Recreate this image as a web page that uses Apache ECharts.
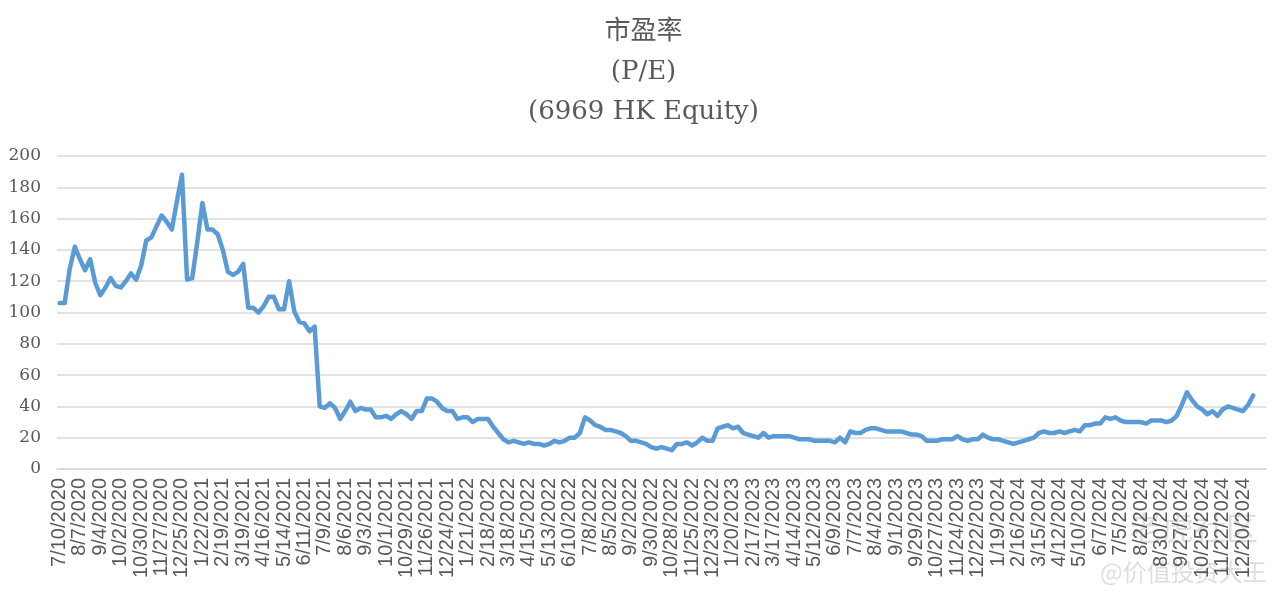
<!DOCTYPE html>
<html>
<head>
<meta charset="utf-8">
<script src="https://cdn.jsdelivr.net/npm/echarts@6/dist/echarts.min.js"></script>
<style>
html,body{margin:0;padding:0;background:#fff;}
#chart{width:1287px;height:606px;}
</style>
</head>
<body>
<div id="chart"></div>
<script>
// Chart title lines
var titleLines = ['市盈率', '(P/E)', '(6969 HK Equity)'];
// Weekly observation dates: first date and number of weekly categories on the axis
var startDate = '2020-07-10';
var categoryCount = 237;
// Y-axis ticks
var yTicks = [0, 20, 40, 60, 80, 100, 120, 140, 160, 180, 200];
// P/E values (weekly)
var peValues = [
  106,106,128,142,134,127,134,119,111,116,
  122,117,116,120,125,121,130,146,148,155,
  162,158,153,171,188,121,122,145,170,153,
  153,150,140,126,124,126,131,103,103,100,
  104,110,110,102,102,120,101,94,93,88,
  91,40,39,42,39,32,37,43,37,39,
  38,38,33,33,34,32,35,37,35,32,
  37,37,45,45,43,39,37,37,32,33,
  33,30,32,32,32,27,23,19,17,18,
  17,16,17,16,16,15,16,18,17,18,
  20,20,23,33,31,28,27,25,25,24,
  23,21,18,18,17,16,14,13,14,13,
  12,16,16,17,15,17,20,18,18,26,
  27,28,26,27,23,22,21,20,23,20,
  21,21,21,21,20,19,19,19,18,18,
  18,18,17,20,17,24,23,23,25,26,
  26,25,24,24,24,24,23,22,22,21,
  18,18,18,19,19,19,21,19,18,19,
  19,22,20,19,19,18,17,16,17,18,
  19,20,23,24,23,23,24,23,24,25,
  24,28,28,29,29,33,32,33,31,30,
  30,30,30,29,31,31,31,30,31,34,
  41,49,44,40,38,35,37,34,38,40,
  39,38,37,41,47
];
// Watermark texts
var watermarkLines = ['老虎社区', '@价值投资大王'];

// build weekly category labels (M/D/YYYY)
var categories = [];
(function(){
  var p = startDate.split('-');
  var t = Date.UTC(+p[0], +p[1]-1, +p[2]);
  for (var i = 0; i < categoryCount; i++) {
    var d = new Date(t + i*7*86400000);
    categories.push((d.getUTCMonth()+1) + '/' + d.getUTCDate() + '/' + d.getUTCFullYear());
  }
})();

var chart = echarts.init(document.getElementById('chart'));
chart.setOption({
  animation: false,
  backgroundColor: '#ffffff',
  title: {
    text: titleLines.join('\n'),
    left: 'center',
    top: 7,
    textStyle: {
      fontFamily: 'DejaVu Serif, Noto Sans CJK SC',
      fontSize: 26,
      fontWeight: 'normal',
      color: '#595959',
      lineHeight: 40
    }
  },
  grid: { left: 57, right: 21, top: 156, bottom: 137, containLabel: false },
  xAxis: {
    type: 'category',
    data: categories,
    boundaryGap: true,
    axisLine: { show: true, lineStyle: { color: '#d9d9d9', width: 1.5 } },
    axisTick: { show: false },
    axisLabel: {
      interval: function (index) { return index % 4 === 0 && index <= 232; },
      hideOverlap: false,
      rotate: 90,
      margin: 9,
      fontFamily: 'Liberation Sans, Arial, sans-serif',
      fontSize: 20,
      color: '#595959'
    },
    splitLine: { show: false }
  },
  yAxis: {
    type: 'value',
    min: yTicks[0],
    max: yTicks[yTicks.length-1],
    interval: yTicks[1]-yTicks[0],
    axisLine: { show: false },
    axisTick: { show: false },
    axisLabel: {
      margin: 16,
      fontFamily: 'DejaVu Serif, serif',
      fontSize: 17,
      color: '#595959'
    },
    splitLine: { lineStyle: { color: '#d9d9d9', width: 1.5 } }
  },
  series: [{
    type: 'line',
    data: peValues,
    showSymbol: false,
    symbol: 'none',
    lineStyle: { color: '#5b9bd5', width: 4.5, join: 'round', cap: 'round' },
    itemStyle: { color: '#5b9bd5' }
  }],
  graphic: [
    {
      type: 'text', left: 1130, top: 512, z: 0, zlevel: 0, silent: true,
      style: { text: watermarkLines[0], fontFamily: 'Noto Sans CJK SC', fontSize: 32, fill: 'rgba(190,190,190,0.5)' }
    },
    {
      type: 'text', left: 1100, top: 560, z: 0, zlevel: 0, silent: true,
      style: { text: watermarkLines[1], fontFamily: 'Noto Sans CJK SC', fontSize: 24, fill: 'rgba(190,190,190,0.5)' }
    }
  ]
});
</script>
</body>
</html>
